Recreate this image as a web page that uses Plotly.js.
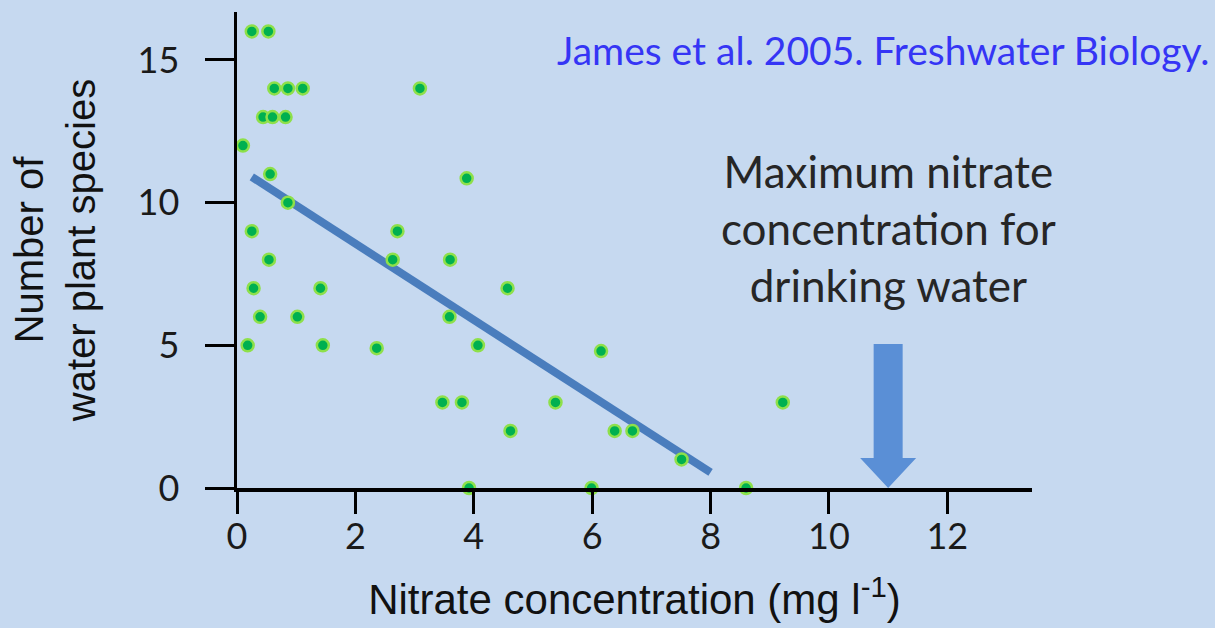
<!DOCTYPE html>
<html>
<head>
<meta charset="utf-8">
<script src="https://cdn.plot.ly/plotly-3.0.1.min.js"></script>
<style>
  html, body { margin: 0; padding: 0; background: #c6d9f0; }
  #chart { width: 1215px; height: 628px; }
</style>
</head>
<body>
<div id="chart"></div>
<script>
// Nitrate concentration (mg/l) of each lake
const nitrate = [0.25, 0.53, 0.63, 0.86, 1.11, 3.09, 0.44, 0.60, 0.82, 0.10,
                 0.56, 3.88, 0.86, 0.25, 2.71, 0.54, 2.63, 3.60, 0.28, 1.41,
                 4.57, 0.39, 1.02, 3.59, 0.18, 1.45, 2.36, 4.07, 6.15, 3.47,
                 3.80, 5.38, 9.22, 4.62, 6.38, 6.68, 7.51, 3.92, 5.99, 8.60];
// Number of water plant species in each lake
const species = [16, 16, 14, 14, 14, 14, 13, 13, 13, 12,
                 11, 10.85, 10, 9, 9, 8, 8, 8, 7, 7,
                 7, 6, 6, 6, 5, 5, 4.9, 5, 4.8, 3,
                 3, 3, 3, 2, 2, 2, 1, 0, 0, 0];
// Regression line end points
const fitX = [0.25, 8.0];
const fitY = [10.9, 0.55];
// Maximum nitrate concentration for drinking water
const maxNitrate = 11;
const arrowTop = 5.05;
const arrowHeadBase = 1.05;

const xTicks = [0, 2, 4, 6, 8, 10, 12];
const yTicks = [0, 5, 10, 15];

const calibri = 'Lato, "Open Sans", sans-serif';
const arial = '"Liberation Sans", Arial, sans-serif';

const traces = [
  {
    x: fitX, y: fitY, mode: 'lines', type: 'scatter',
    line: { color: '#4a7dbd', width: 8 },
    hoverinfo: 'skip', showlegend: false
  },
  {
    x: nitrate, y: species, mode: 'markers', type: 'scatter',
    marker: { color: '#00b050', size: 12, line: { color: '#8ee04a', width: 2.5 } },
    cliponaxis: false, showlegend: false
  }
];

const sw = 14.5, hw = 28;
const arrowPath = `M ${-sw},${arrowTop} L ${sw},${arrowTop} L ${sw},${arrowHeadBase} L ${hw},${arrowHeadBase} L 0,0 L ${-hw},${arrowHeadBase} L ${-sw},${arrowHeadBase} Z`;

const layout = {
  width: 1215, height: 628,
  paper_bgcolor: '#c6d9f0', plot_bgcolor: '#c6d9f0',
  margin: { l: 237, r: 183, t: 12, b: 140 },
  showlegend: false,
  xaxis: {
    range: [0, 13.43], tickvals: xTicks, ticktext: xTicks.map(String),
    showgrid: false, zeroline: false,
    showline: true, linecolor: '#000', linewidth: 3.5,
    ticks: 'outside', ticklen: 22, tickwidth: 3, tickcolor: '#000',
    ticklabelstandoff: -8,
    tickfont: { family: calibri, size: 36, color: '#1a1a1a' },
    title: { text: 'Nitrate concentration (mg l<sup>-1</sup>)', font: { family: arial, size: 42, color: '#111' }, standoff: 30 }
  },
  yaxis: {
    range: [0, 16.68], tickvals: yTicks, ticktext: yTicks.map(String),
    showgrid: false, zeroline: false,
    showline: true, linecolor: '#000', linewidth: 3.5,
    ticks: 'outside', ticklen: 29, tickwidth: 3, tickcolor: '#000',
    ticklabelstandoff: 18,
    tickfont: { family: calibri, size: 36, color: '#1a1a1a' },
    title: { text: 'Number of<br>water plant species', font: { family: arial, size: 40, color: '#111' }, standoff: 30 }
  },
  shapes: [
    {
      type: 'path', xref: 'x', yref: 'y', xsizemode: 'pixel', xanchor: maxNitrate,
      path: arrowPath, fillcolor: '#5a8fd6', line: { width: 0 }
    }
  ],
  annotations: [
    {
      text: 'James et al. 2005. Freshwater Biology.', xref: 'paper', yref: 'paper',
      x: 1.0 + 180/795, y: 1 + (12 - 50)/476, xanchor: 'right', yanchor: 'middle',
      showarrow: false, font: { family: calibri, size: 39, color: '#3535f5' }
    },
    {
      text: 'Maximum nitrate<br>concentration for<br>drinking water', xref: 'x', yref: 'paper',
      x: maxNitrate, y: 1 - (228 - 12)/476, xanchor: 'center', yanchor: 'middle',
      showarrow: false, align: 'center',
      font: { family: calibri, size: 44, color: '#262626' }
    }
  ]
};

Plotly.newPlot('chart', traces, layout, { displayModeBar: false, staticPlot: true });
</script>
</body>
</html>
